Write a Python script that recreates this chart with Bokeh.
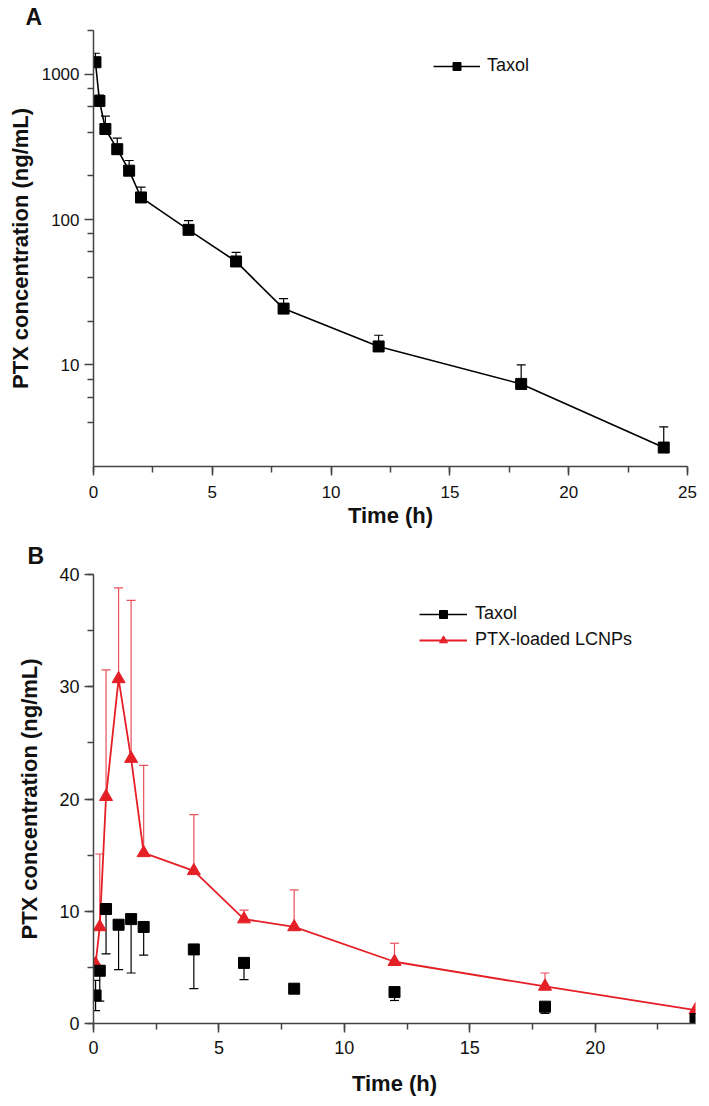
from bokeh.plotting import figure
from bokeh.models import (ColumnDataSource, Whisker, TeeHead, Title, Legend, LegendItem,
                          SingleIntervalTicker, FixedTicker, BasicTickFormatter, Range1d)
from bokeh.layouts import column
from bokeh.embed import file_html
from bokeh.resources import INLINE

FONT = "Liberation Sans"
RED = "#e41f26"
RED_ERR = "#e8505a"
AX = "#444444"

# ---------------- Panel A data (Taxol, log scale) ----------------
time_a = [0.083, 0.25, 0.5, 1, 1.5, 2, 4, 6, 8, 12, 18, 24]
taxol_a = [1210, 655, 420, 305, 217, 142, 85, 51.5, 24.4, 13.4, 7.4, 2.7]
taxol_a_sd = [185, 63, 95, 58, 38, 25, 13.5, 8, 4.2, 2.6, 2.6, 1.05]

# ---------------- Panel B data ----------------
time_b = [0.083, 0.25, 0.5, 1, 1.5, 2, 4, 6, 8, 12, 18, 24]
lcnp_b = [5.3, 8.6, 20.2, 30.7, 23.6, 15.2, 13.6, 9.3, 8.6, 5.5, 3.3, 1.2]
lcnp_b_sd = [0, 6.5, 11.3, 8.1, 14.1, 7.8, 5.0, 0.8, 3.3, 1.65, 1.2, 0]
taxol_b = [2.5, 4.7, 10.2, 8.8, 9.3, 8.6, 6.6, 5.4, 3.1, 2.8, 1.5, 0.4]
taxol_b_sd_down = [1.35, 2.7, 4.0, 4.0, 4.8, 2.5, 3.5, 1.5, 0, 0.75, 0.6, 0]
taxol_b_sd_up = [1.35, 0, 0, 0, 0, 0, 0, 0, 0, 0, 0, 0]

a_major = [10, 100, 1000]
a_minor = [4, 6, 8, 20, 40, 60, 80, 200, 400, 600, 800, 2000]


def style(p, tick_size="17px"):
    p.outline_line_color = None
    p.xgrid.visible = False
    p.ygrid.visible = False
    p.background_fill_color = "white"
    p.border_fill_color = "white"
    for ax in (p.xaxis[0], p.yaxis[0]):
        ax.axis_line_color = AX
        ax.axis_line_width = 1.5
        ax.major_tick_line_color = AX
        ax.major_tick_line_width = 1.5
        ax.minor_tick_line_color = AX
        ax.minor_tick_line_width = 1.5
        ax.major_tick_out = 9
        ax.major_tick_in = 0
        ax.minor_tick_out = 6
        ax.minor_tick_in = 0
        ax.major_label_text_font = FONT
        ax.major_label_text_font_size = tick_size
        ax.major_label_text_color = "#111111"
        ax.major_label_standoff = 5
        ax.axis_label_text_font = FONT
        ax.axis_label_text_font_style = "bold"
        ax.axis_label_text_font_size = "22px"
        ax.axis_label_text_color = "#111111"
        ax.axis_label_standoff = 6


def nonzero(xs, lo, hi):
    d = dict(t=[], lo=[], hi=[])
    for x, l, h in zip(xs, lo, hi):
        if h - l > 0:
            d["t"].append(x)
            d["lo"].append(l)
            d["hi"].append(h)
    return ColumnDataSource(d)


def panel_title(letter, offset, standoff, valign="bottom"):
    return Title(text=letter, align="left", offset=offset, standoff=standoff,
                 vertical_align=valign,
                 text_font=FONT, text_font_style="bold", text_font_size="23px",
                 text_color="#111111")


# ================= Panel A =================
pa = figure(width=700, height=530, x_range=Range1d(0, 25), y_range=Range1d(2, 2000),
            y_axis_type="log", output_backend="svg", toolbar_location=None,
            min_border_left=93, min_border_right=13, min_border_top=29, min_border_bottom=60)
style(pa)
pa.xaxis.major_label_standoff = 10
pa.xaxis.axis_label_standoff = 2
pa.title = panel_title("A", -68, 2)
pa.xaxis.ticker = SingleIntervalTicker(interval=5, num_minor_ticks=2)
pa.yaxis.ticker = FixedTicker(ticks=a_major, minor_ticks=a_minor)
pa.yaxis.formatter = BasicTickFormatter()
pa.xaxis.axis_label = "Time (h)"
pa.yaxis.axis_label = "PTX concentration (ng/mL)"

src_a = ColumnDataSource(dict(t=time_a, y=taxol_a))
err_a = nonzero(time_a, taxol_a, [v + s for v, s in zip(taxol_a, taxol_a_sd)])
wa = Whisker(base="t", lower="lo", upper="hi", source=err_a, line_color="black", line_width=1.2,
             upper_head=TeeHead(size=9, line_color="black", line_width=1.2), lower_head=None)
pa.add_layout(wa)
la = pa.line("t", "y", source=src_a, line_color="black", line_width=1.6)
sa = pa.scatter("t", "y", source=src_a, marker="square", size=11, fill_color="black",
                line_color="black")
leg_a = Legend(items=[LegendItem(label="Taxol", renderers=[la, sa])], location=(340, 390),
               glyph_width=47, glyph_height=20, label_height=20, label_standoff=7,
               padding=0, margin=0, spacing=5, border_line_color=None,
               background_fill_alpha=0, label_text_font=FONT, label_text_font_size="18px",
               label_text_color="#111111")
pa.add_layout(leg_a)

# ================= Panel B =================
pb = figure(width=708, height=570, x_range=Range1d(0, 24), y_range=Range1d(0, 40),
            output_backend="svg", toolbar_location=None,
            min_border_left=91, min_border_right=10, min_border_top=44, min_border_bottom=77)
style(pb, tick_size="18px")
pb.xaxis.major_label_standoff = 8
pb.xaxis.axis_label_standoff = 14
pb.yaxis.axis_label_standoff = 14
pb.title = panel_title("B", -66, 8, valign="top")
pb.xaxis.ticker = SingleIntervalTicker(interval=5, num_minor_ticks=2)
pb.yaxis.ticker = SingleIntervalTicker(interval=10, num_minor_ticks=2)
pb.xaxis.axis_label = "Time (h)"
pb.yaxis.axis_label = "PTX concentration (ng/mL)"
# an off-screen range so the Taxol legend entry can show its connecting line
pb.extra_y_ranges = {"legend_only": Range1d(1000, 2000)}

src_lc = ColumnDataSource(dict(t=time_b, y=lcnp_b))
err_lc = nonzero(time_b, lcnp_b, [v + s for v, s in zip(lcnp_b, lcnp_b_sd)])
wl = Whisker(base="t", lower="lo", upper="hi", source=err_lc, line_color=RED_ERR, line_width=1.2,
             upper_head=TeeHead(size=9, line_color=RED_ERR, line_width=1.2), lower_head=None)
pb.add_layout(wl)

src_tb = ColumnDataSource(dict(t=time_b, y=taxol_b))
err_tb_d = nonzero(time_b, [v - s for v, s in zip(taxol_b, taxol_b_sd_down)], taxol_b)
err_tb_u = nonzero(time_b, taxol_b, [v + s for v, s in zip(taxol_b, taxol_b_sd_up)])
wtd = Whisker(base="t", lower="lo", upper="hi", source=err_tb_d, line_color="black", line_width=1.2,
              lower_head=TeeHead(size=9, line_color="black", line_width=1.2), upper_head=None)
wtu = Whisker(base="t", lower="lo", upper="hi", source=err_tb_u, line_color="black", line_width=1.2,
              upper_head=TeeHead(size=9, line_color="black", line_width=1.2), lower_head=None)
pb.add_layout(wtd)
pb.add_layout(wtu)

ll = pb.line("t", "y", source=src_lc, line_color=RED, line_width=1.8)
sl = pb.scatter("t", "y", source=src_lc, marker="triangle", size=13, fill_color=RED,
                line_color=RED)
lt = pb.line("t", "y", source=src_tb, line_color="black", line_width=1.6,
             y_range_name="legend_only")
st = pb.scatter("t", "y", source=src_tb, marker="square", size=11, fill_color="black",
                line_color="black")
leg_b = Legend(items=[LegendItem(label="Taxol", renderers=[lt, st]),
                      LegendItem(label="PTX-loaded LCNPs", renderers=[ll, sl])],
               location=(326, 373), glyph_width=48, glyph_height=20, label_height=20,
               label_standoff=8, padding=0, margin=0, spacing=5, border_line_color=None,
               background_fill_alpha=0, label_text_font=FONT, label_text_font_size="18px",
               label_text_color="#111111")
pb.add_layout(leg_b)

layout = column(pa, pb, spacing=0)
open("out.html", "w").write(file_html(layout, INLINE))
